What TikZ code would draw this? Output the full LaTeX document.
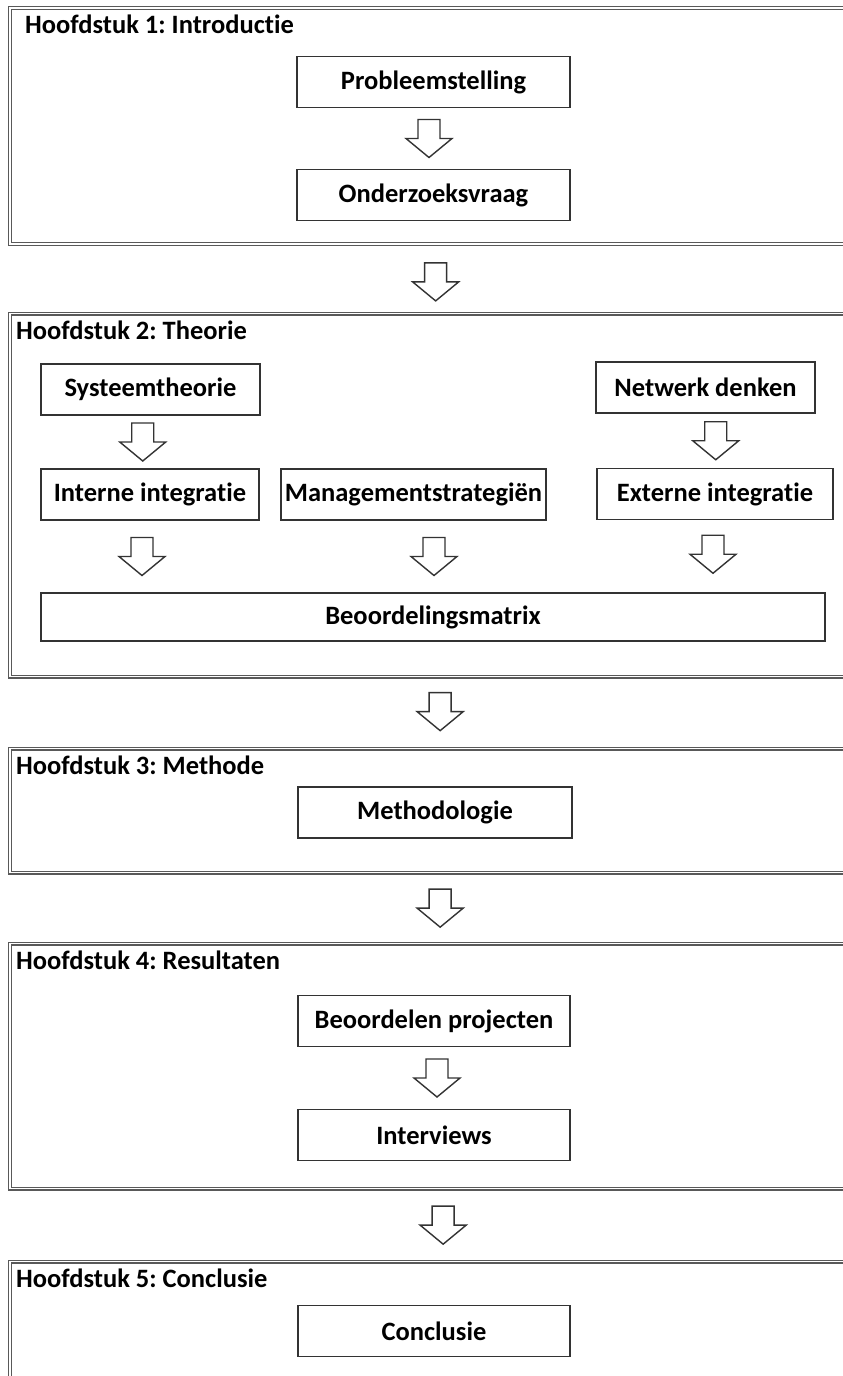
\documentclass[tikz,border=0pt]{standalone}
\usepackage{fontspec}
\setmainfont{Carlito}[Ligatures=NoCommon]
\usetikzlibrary{calc}
\frenchspacing

\tikzset{
  chapter/.style={draw=black!65, line width=1.3pt, double=white, double distance=1.4pt,
    inner sep=0pt, anchor=north west, minimum width=860pt},
  chaptitle/.style={anchor=base west, inner sep=0pt, font=\bfseries\fontsize{26.5}{30}\selectfont},
  stepbox/.style={draw=black!80, line width=1.5pt, inner sep=0pt, minimum height=51pt,
    font=\bfseries\fontsize{26.5}{30}\selectfont},
  blockarrow/.style={draw=black!80, line width=1.4pt, line join=miter, fill=white},
  downarrow/.pic={
    \draw[blockarrow] (-11,-19) -- (11,-19) -- (11,0) -- (23,0) -- (0,19) -- (-23,0) -- (-11,0) -- cycle;
  }
}

\begin{document}
\begin{tikzpicture}[x=1pt, y=-1pt]
\useasboundingbox (0,0) rectangle (843,1376);
\fill[white] (0,0) rectangle (843,1376);

% chapter frames
\node[chapter, minimum height=236pt] (f1) at (9.5,7.5) {};
\node[chapter, minimum height=363pt] (f2) at (9.5,313) {};
\node[chapter, minimum height=124pt] (f3) at (9.5,748) {};
\node[chapter, minimum height=245pt] (f4) at (9.5,943) {};
\node[chapter, minimum height=160pt] (f5) at (9.5,1261) {};

% chapter titles
\node[chaptitle] (t1) at ($(f1.north west)+(15.5,26)$) {Hoofdstuk 1: Introductie};
\node[chaptitle] (t2) at ($(f2.north west)+(6.5,26)$) {Hoofdstuk 2: Theorie};
\node[chaptitle] (t3) at ($(f3.north west)+(6.5,26)$) {Hoofdstuk 3: Methode};
\node[chaptitle] (t4) at ($(f4.north west)+(6.5,26)$) {Hoofdstuk 4: Resultaten};
\node[chaptitle] (t5) at ($(f5.north west)+(6.5,26)$) {Hoofdstuk 5: Conclusie};

% chapter 1
\node[stepbox, minimum width=273pt] (prob) at (433.5,82) {Probleemstelling};
\node[stepbox, minimum width=273pt] (vraag) at (433.5,195) {Onderzoeksvraag};
\pic at ($(prob.south)!0.5!(vraag.north)+(-4.5,0)$) {downarrow};

% chapter 2
\node[stepbox, minimum width=219pt] (sys) at (150.5,389.5) {Systeemtheorie};
\node[stepbox, minimum width=219pt] (net) at (705.5,387.5) {Netwerk denken};
\node[stepbox, minimum width=218pt] (int) at (150,494.5) {Interne integratie};
\node[stepbox, minimum width=265pt] (man) at (413.5,494.5) {Managementstrategiën};
\node[stepbox, minimum width=236pt] (ext) at (715,494) {Externe integratie};
\node[stepbox, minimum width=784pt, minimum height=48pt] (bm) at (433,617) {Beoordelingsmatrix};
\pic at ($(sys.south)!0.5!(int.south|-int.north)+(-7.5,0)$) {downarrow};
\pic at ($(net.south)!0.5!(ext.south|-ext.north)+(5.5,0)$) {downarrow};
\pic at ($(int.south)!0.5!(int.south|-bm.north)+(-8,0)$) {downarrow};
\pic at ($(man.south)!0.5!(man.south|-bm.north)+(20.5,0)$) {downarrow};
\pic at ($(ext.south)!0.5!(ext.south|-bm.north)+(-2,-2)$) {downarrow};

% chapter 3
\node[stepbox, minimum width=274pt] (meth) at (435,812.5) {Methodologie};

% chapter 4
\node[stepbox, minimum width=272pt] (beo) at (434,1021) {Beoordelen projecten};
\node[stepbox, minimum width=272pt] (intv) at (434,1135) {Interviews};
\pic at ($(beo.south)!0.5!(intv.north)+(3,0)$) {downarrow};

% chapter 5
\node[stepbox, minimum width=272pt] (conc) at (434,1331) {Conclusie};

% transitions between chapters
\pic at ($(f1.south)!0.5!(f2.north)+(430-434.5,3)$) {downarrow};
\pic at ($(f2.south)!0.5!(f3.north)+(0,-1)$) {downarrow};
\pic at ($(f3.south)!0.5!(f4.north)+(0,0)$) {downarrow};
\pic at ($(f4.south)!0.5!(f5.north)+(3,0)$) {downarrow};
\end{tikzpicture}
\end{document}
